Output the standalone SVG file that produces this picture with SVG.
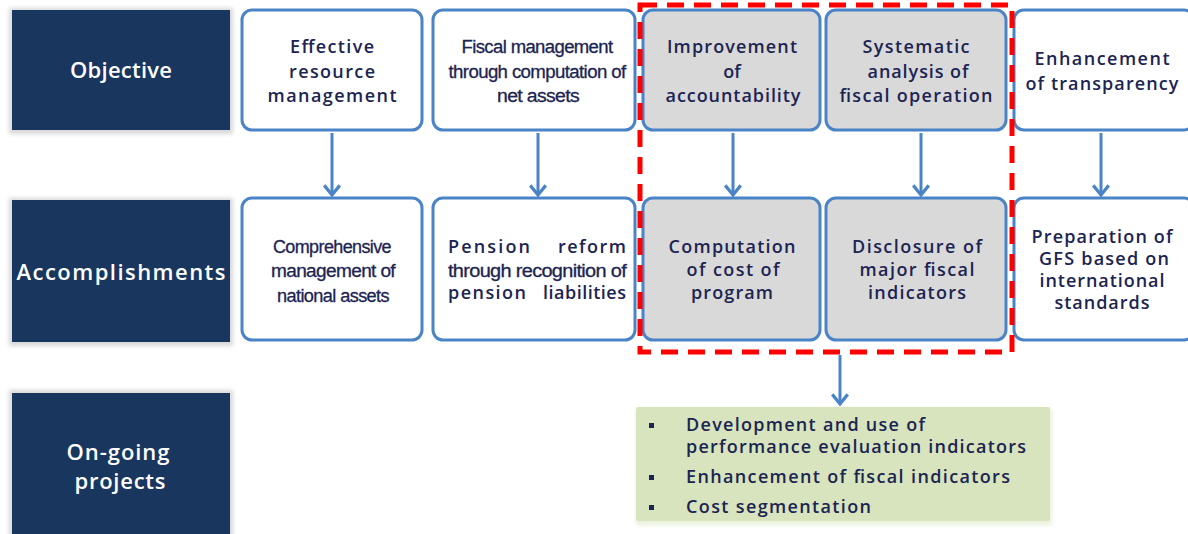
<svg xmlns="http://www.w3.org/2000/svg" width="1188" height="534" viewBox="0 0 1188 534">
<defs>
<style>
.lab{fill:#19365f}
.sh{fill:#d8d8d8}
.lt{font-family:"Open Sans","Liberation Sans",Arial,sans-serif;font-weight:600;font-size:22px;fill:#ffffff;text-anchor:middle}
.box{fill:#ffffff;stroke:#4a84c6;stroke-width:3}
.gbox{fill:#d9d9d9;stroke:#4a84c6;stroke-width:3}
.t{font-family:"Open Sans","Liberation Sans",Arial,sans-serif;font-weight:600;font-size:18px;fill:#1c2452;text-anchor:middle}
.c{font-family:"Liberation Sans Narrow","Liberation Sans",Arial,sans-serif;font-size:18px;fill:#1c2452;text-anchor:middle;letter-spacing:-0.6px;stroke:#1c2452;stroke-width:0.3}
.g{font-family:"Open Sans","Liberation Sans",Arial,sans-serif;font-size:18px;font-weight:600;fill:#1c2452}
.arr{stroke:#4a84c6;stroke-width:3;fill:none;marker-end:url(#ah)}
</style>
<marker id="ah" markerWidth="6" markerHeight="6" refX="4.6" refY="3" orient="auto" markerUnits="strokeWidth" viewBox="0 0 6 6">
<path d="M1.4,0.4 L4.6,3 L1.4,5.6" fill="none" stroke="#4a84c6" stroke-width="1.1" stroke-linejoin="miter"/>
</marker>
<filter id="blur" x="-10%" y="-10%" width="120%" height="120%"><feGaussianBlur stdDeviation="2"/></filter>
</defs>

<g id="label-objective">
<rect x="9" y="8" width="224" height="126" class="sh" filter="url(#blur)"/>
<rect x="12" y="10" width="218" height="120" class="lab"/>
<text x="121" y="78" class="lt" textLength="102" lengthAdjust="spacing">Objective</text>
</g>
<g id="label-accomplishments">
<rect x="9" y="198" width="224" height="148" class="sh" filter="url(#blur)"/>
<rect x="12" y="200" width="218" height="142" class="lab"/>
<text x="121" y="280" class="lt" textLength="209" lengthAdjust="spacing">Accomplishments</text>
</g>
<g id="label-ongoing">
<rect x="9" y="390" width="224" height="150" class="sh" filter="url(#blur)"/>
<rect x="12" y="393" width="218" height="145" class="lab"/>
<text x="118" y="460" class="lt" textLength="103" lengthAdjust="spacing">On-going</text>
<text x="120" y="489" class="lt" textLength="91" lengthAdjust="spacing">projects</text>
</g>

<g id="obj1">
<rect x="242" y="10" width="180" height="120" rx="10" class="box"/>
<text x="332" y="53" class="t" textLength="84" lengthAdjust="spacing">Effective</text>
<text x="332" y="78" class="t" textLength="86" lengthAdjust="spacing">resource</text>
<text x="332" y="102" class="t" textLength="129" lengthAdjust="spacing">management</text>
</g>
<g id="obj2">
<rect x="433" y="10" width="202" height="120" rx="10" class="box"/>
<text x="537" y="53" class="c" textLength="151" lengthAdjust="spacingAndGlyphs">Fiscal management</text>
<text x="537" y="78" class="c" textLength="177" lengthAdjust="spacingAndGlyphs">through computation of</text>
<text x="538" y="102" class="c" textLength="82" lengthAdjust="spacingAndGlyphs">net assets</text>
</g>
<g id="obj3">
<rect x="643" y="10" width="177" height="120" rx="10" class="gbox"/>
<text x="732" y="53" class="t" textLength="130" lengthAdjust="spacing">Improvement</text>
<text x="732" y="78" class="t">of</text>
<text x="733" y="102" class="t" textLength="135" lengthAdjust="spacing">accountability</text>
</g>
<g id="obj4">
<rect x="826" y="10" width="180" height="120" rx="10" class="gbox"/>
<text x="916" y="53" class="t" textLength="107" lengthAdjust="spacing">Systematic</text>
<text x="918" y="78" class="t" textLength="101" lengthAdjust="spacing">analysis of</text>
<text x="916" y="102" class="t" textLength="153" lengthAdjust="spacing">fiscal operation</text>
</g>
<g id="obj5">
<rect x="1014" y="10" width="180" height="120" rx="10" class="box"/>
<text x="1102" y="65" class="t" textLength="135" lengthAdjust="spacing">Enhancement</text>
<text x="1102" y="90" class="t" textLength="153" lengthAdjust="spacing">of transparency</text>
</g>

<g id="acc1">
<rect x="242" y="198" width="180" height="142" rx="10" class="box"/>
<text x="332" y="253" class="c" textLength="118" lengthAdjust="spacingAndGlyphs">Comprehensive</text>
<text x="333" y="277" class="c" textLength="124" lengthAdjust="spacingAndGlyphs">management of</text>
<text x="333" y="302" class="c" textLength="112" lengthAdjust="spacingAndGlyphs">national assets</text>
</g>
<g id="acc2">
<rect x="433" y="198" width="202" height="142" rx="10" class="box"/>
<text x="448" y="253" class="t" style="text-anchor:start" textLength="82" lengthAdjust="spacing">Pension</text>
<text x="626" y="253" class="t" style="text-anchor:end" textLength="68" lengthAdjust="spacing">reform</text>
<text x="537" y="277" class="c" textLength="178" lengthAdjust="spacingAndGlyphs">through recognition of</text>
<text x="448" y="299" class="t" style="text-anchor:start" textLength="78" lengthAdjust="spacing">pension</text>
<text x="626" y="299" class="t" style="text-anchor:end" textLength="83" lengthAdjust="spacing">liabilities</text>
</g>
<g id="acc3">
<rect x="643" y="198" width="177" height="142" rx="10" class="gbox"/>
<text x="732" y="253" class="t" textLength="127" lengthAdjust="spacing">Computation</text>
<text x="733" y="276" class="t" textLength="93" lengthAdjust="spacing">of cost of</text>
<text x="732" y="299" class="t" textLength="82" lengthAdjust="spacing">program</text>
</g>
<g id="acc4">
<rect x="826" y="198" width="180" height="142" rx="10" class="gbox"/>
<text x="917" y="253" class="t" textLength="130" lengthAdjust="spacing">Disclosure of</text>
<text x="917" y="276" class="t" textLength="115" lengthAdjust="spacing">major fiscal</text>
<text x="917" y="299" class="t" textLength="98" lengthAdjust="spacing">indicators</text>
</g>
<g id="acc5">
<rect x="1014" y="198" width="180" height="142" rx="10" class="box"/>
<text x="1102" y="243" class="t" textLength="141" lengthAdjust="spacing">Preparation of</text>
<text x="1104" y="265" class="t" textLength="130" lengthAdjust="spacing">GFS based on</text>
<text x="1102" y="287" class="t" textLength="125" lengthAdjust="spacing">international</text>
<text x="1102" y="309" class="t" textLength="95" lengthAdjust="spacing">standards</text>
</g>

<g id="highlight">
<rect x="640" y="5" width="372" height="347" fill="none" stroke="#ff0000" stroke-width="5" stroke-dasharray="17,10"/>
</g>

<g id="ongoing">
<rect x="636" y="409" width="416" height="116" rx="3" fill="#dce7c6" filter="url(#blur)" opacity="0.6"/>
<rect x="636" y="407" width="414" height="114" rx="2" fill="#d7e4bd"/>
<rect x="649" y="423" width="5" height="5" fill="#1c2452"/>
<rect x="649" y="475" width="5" height="5" fill="#1c2452"/>
<rect x="649" y="505" width="5" height="5" fill="#1c2452"/>
<text x="686" y="431" class="g" textLength="239" lengthAdjust="spacing">Development and use of</text>
<text x="686" y="453" class="g" textLength="340" lengthAdjust="spacing">performance evaluation indicators</text>
<text x="686" y="483" class="g" textLength="324" lengthAdjust="spacing">Enhancement of fiscal indicators</text>
<text x="686" y="513" class="g" textLength="185" lengthAdjust="spacing">Cost segmentation</text>
</g>

<g id="connectors">
<line x1="332" y1="133" x2="332" y2="195" class="arr"/>
<line x1="538" y1="133" x2="538" y2="195" class="arr"/>
<line x1="733" y1="133" x2="733" y2="195" class="arr"/>
<line x1="921" y1="133" x2="921" y2="195" class="arr"/>
<line x1="1101" y1="133" x2="1101" y2="195" class="arr"/>
<line x1="840" y1="355" x2="840" y2="404" class="arr"/>
</g>
</svg>
